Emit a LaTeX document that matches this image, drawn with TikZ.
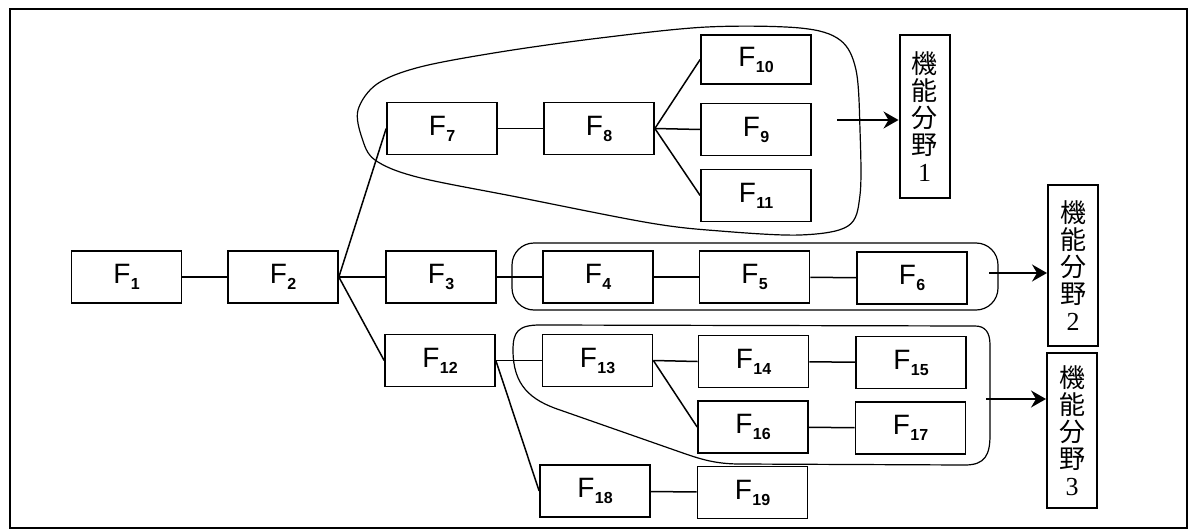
\documentclass[tikz,border=0pt]{standalone}
\usepackage{fontspec}
\setmainfont{Liberation Sans}
\newfontfamily\cjk{Noto Sans CJK JP}
\newfontfamily\numserif{Liberation Serif}
\usetikzlibrary{arrows.meta}
\newcommand\Flab[1]{F\kern0.5pt\raisebox{-6pt}{\fontsize{16}{16}\selectfont\bfseries #1}}
\begin{document}
\begin{tikzpicture}[x=1pt,y=-1pt,
  fbox/.style={draw, line width=1.7pt, minimum width=110pt, minimum height=52pt, inner sep=0pt,
    font=\fontsize{28}{30}\selectfont},
  labbox/.style={draw, line width=2pt, minimum width=50pt, inner sep=0pt, align=center,
    font=\fontsize{26}{27}\selectfont\cjk},
  conn/.style={line width=1.5pt},
  grp/.style={line width=1.2pt},
  arr/.style={line width=1.5pt, -{Stealth[length=15pt,width=17pt,inset=5pt]}}]
\useasboundingbox (0,0) rectangle (1190,532);
\draw[line width=2.6pt] (10,9) rectangle (1187,528);

% groups
\draw[grp] plot[smooth cycle, tension=0.55] coordinates {
  (358,110) (377,84) (420,67) (500,52) (600,38) (707,27) (800,28) (840,40) (856,70)
  (860,130) (860,195) (848,226) (800,235) (720,231) (650,223) (517,197) (417,177) (375,160) (362,138)};
\draw[grp, rounded corners=22pt] (512,243) rectangle (998,310);
\draw[grp] (975,326) -- (540,325) .. controls (518,325) and (513,332) .. (513,350)
  .. controls (513,385) and (530,400) .. (560,410)
  -- (680,452) .. controls (700,459) and (715,464) .. (740,464)
  -- (965,465) .. controls (985,465) and (990,455) .. (990,435)
  -- (990,345) .. controls (990,332) and (985,326) .. (975,326);

% function nodes
\node[fbox] (f1) at (126.5,277) {\Flab{1}};
\node[fbox] (f2) at (283,277) {\Flab{2}};
\node[fbox] (f3) at (441,277) {\Flab{3}};
\node[fbox] (f4) at (598,277) {\Flab{4}};
\node[fbox] (f5) at (754.5,277) {\Flab{5}};
\node[fbox] (f6) at (912,278) {\Flab{6}};
\node[fbox] (f7) at (442,128.5) {\Flab{7}};
\node[fbox] (f8) at (599,128.5) {\Flab{8}};
\node[fbox, minimum height=49pt] (f10) at (756,59.5) {\Flab{10}};
\node[fbox] (f9) at (756,129.5) {\Flab{9}};
\node[fbox] (f11) at (756,195.5) {\Flab{11}};
\node[fbox] (f12) at (440,360.5) {\Flab{12}};
\node[fbox] (f13) at (597.5,360.5) {\Flab{13}};
\node[fbox] (f14) at (753.5,361.5) {\Flab{14}};
\node[fbox] (f15) at (911,362.5) {\Flab{15}};
\node[fbox] (f16) at (753,427) {\Flab{16}};
\node[fbox] (f17) at (910.5,428) {\Flab{17}};
\node[fbox] (f18) at (595,491) {\Flab{18}};
\node[fbox] (f19) at (752.5,492.5) {\Flab{19}};

% label boxes
\node[labbox, minimum height=163pt] (lab1) at (924.5,116.5) {機\\能\\分\\野\\{\numserif 1}};
\node[labbox, minimum height=161pt] (lab2) at (1073,265.5) {機\\能\\分\\野\\{\numserif 2}};
\node[labbox, minimum height=155pt] (lab3) at (1072,430.5) {機\\能\\分\\野\\{\numserif 3}};

% connectors
\draw[conn] (f1) -- (f2);
\draw[conn] (f2.east) -- (f7.west);
\draw[conn] (f2.east) -- (f3.west);
\draw[conn] (f2.east) -- (f12.west);
\draw[conn] (f3) -- (f4);
\draw[conn] (f4) -- (f5);
\draw[conn] (f5) -- (f6);
\draw[conn] (f7) -- (f8);
\draw[conn] (f8.east) -- (f10.west);
\draw[conn] (f8.east) -- (f9.west);
\draw[conn] (f8.east) -- (f11.west);
\draw[conn] (f12.east) -- (f13.west);
\draw[conn] (f12.east) -- (f18.west);
\draw[conn] (f13.east) -- (f14.west);
\draw[conn] (f13.east) -- (f16.west);
\draw[conn] (f14) -- (f15);
\draw[conn] (f16) -- (f17);
\draw[conn] (f18) -- (f19);

% arrows
\coordinate (a1) at (837,120);
\coordinate (a2) at (989,273);
\coordinate (a3) at (986,399);
\draw[arr] (a1) -- (a1 -| lab1.west);
\draw[arr] (a2) -- (a2 -| lab2.west);
\draw[arr] (a3) -- (a3 -| lab3.west);
\end{tikzpicture}
\end{document}
